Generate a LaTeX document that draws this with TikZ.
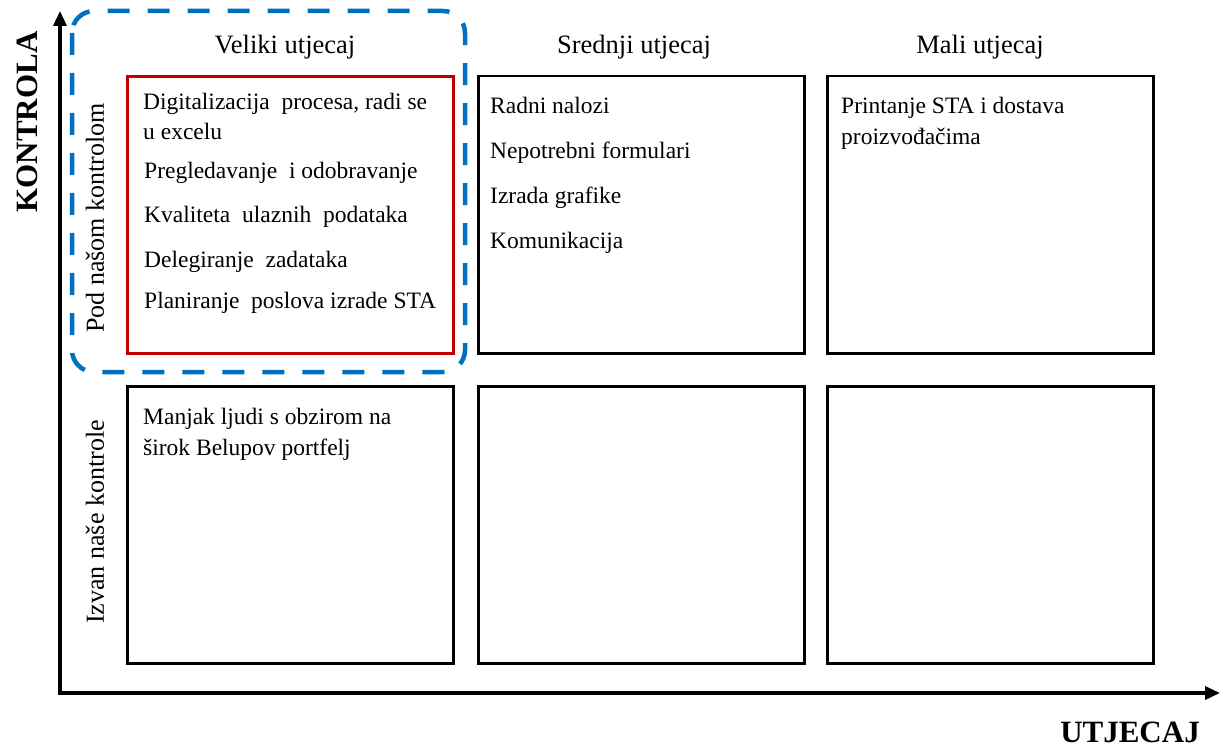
\documentclass[tikz,border=0pt]{standalone}
\usepackage{fontspec}
\setmainfont{Liberation Serif}
\usetikzlibrary{arrows.meta}
\definecolor{boxred}{HTML}{C00000}
\definecolor{boxblue}{HTML}{0070C0}
\tikzset{
  cell/.style={draw=black, line width=2.5pt, minimum width=326pt, minimum height=277pt, anchor=north west, inner sep=0pt},
  redcell/.style={cell, draw=boxred, line width=3pt},
  item/.style={anchor=base west, inner sep=0pt, align=left, font=\fontsize{23.5}{30}\selectfont},
  head/.style={anchor=base, inner sep=0pt, font=\fontsize{26.5}{30}\selectfont},
  rowlab/.style={rotate=90, inner sep=0pt, font=\fontsize{26}{30}\selectfont},
  axlab/.style={inner sep=0pt, font=\fontsize{31}{34}\selectfont\bfseries},
  axis/.style={line width=3.5pt, -{Triangle[length=15pt,width=13pt]}},
}
\begin{document}
\begin{tikzpicture}[x=1pt,y=-1pt]
\useasboundingbox (0,0) rectangle (1220,751);
% axes
\coordinate (O) at (60,693);
\coordinate (ytip) at (60,11);
\coordinate (xtip) at (1220,693);
\draw[axis] ([yshift=1.75pt]O) -- (ytip);
\draw[axis] ([xshift=-1.75pt]O) -- (xtip);
% blue dashed frame
\draw[boxblue, line width=4.5pt, dash pattern=on 22pt off 18pt, rounded corners=22pt] (72,11) rectangle (465,372);
% cells
\node[redcell] (c11) at (126,75) {};
\node[cell] (c12) at (477,75) {};
\node[cell] (c13) at (826,75) {};
\node[cell] (c21) at (126,385) {};
\node[cell] (c22) at (477,385) {};
\node[cell] (c23) at (826,385) {};
% headers
\node[head] (h1) at (285,54) {Veliki utjecaj};
\node[head] (h2) at (634,54) {Srednji utjecaj};
\node[head] (h3) at (980,54) {Mali utjecaj};
% row labels
\node[rowlab] (r1) at (95,218) {Pod našom kontrolom};
\node[rowlab] (r2) at (95,522) {Izvan naše kontrole};
% axis labels
\node[axlab, rotate=90] (ky) at (27,122) {KONTROLA};
\node[axlab] (kx) at (1130,732) {UTJECAJ};
% items red cell
\node[item] (a1) at (143,140) {Digitalizacija\ \ procesa, radi se\\u excelu};
\node[item] (a2) at (144,179) {Pregledavanje\ \ i odobravanje};
\node[item] (a3) at (144,223) {Kvaliteta\ \ ulaznih\ \ podataka};
\node[item] (a4) at (144,268) {Delegiranje\ \ zadataka};
\node[item] (a5) at (144,308) {Planiranje\ \ poslova izrade STA};
% middle cell
\node[item] (b1) at (490,114) {Radni nalozi};
\node[item] (b2) at (490,159) {Nepotrebni formulari};
\node[item] (b3) at (490,204) {Izrada grafike};
\node[item] (b4) at (490,249) {Komunikacija};
% right cell
\node[item, font=\fontsize{23.5}{31}\selectfont] (d1) at (841,145) {Printanje STA i dostava\\proizvođačima};
% bottom-left cell
\node[item, font=\fontsize{23.5}{31}\selectfont] (e1) at (143,455) {Manjak ljudi s obzirom na\\širok Belupov portfelj};
\end{tikzpicture}
\end{document}
